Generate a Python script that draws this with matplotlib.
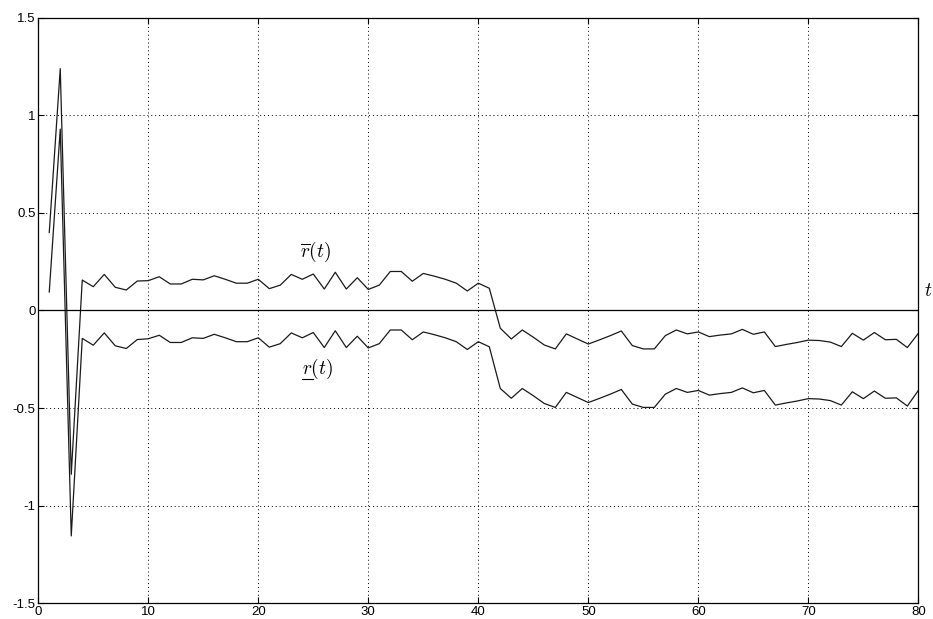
import matplotlib
matplotlib.use("Agg")
import matplotlib.pyplot as plt
from matplotlib.lines import Line2D
import numpy as np

t = list(range(1, 81))
r_upper = [0.40, 1.24, -0.84, 0.156, 0.122, 0.185, 0.119, 0.105, 0.151, 0.153,
           0.173, 0.136, 0.136, 0.160, 0.157, 0.178, 0.160, 0.140, 0.140, 0.160,
           0.112, 0.130, 0.185, 0.160, 0.187, 0.110, 0.196, 0.110, 0.168, 0.108,
           0.130, 0.200, 0.200, 0.150, 0.190, 0.176, 0.160, 0.140, 0.100, 0.140,
           0.114, -0.091, -0.146, -0.100, -0.137, -0.177, -0.197, -0.120, -0.146, -0.172,
           -0.151, -0.129, -0.105, -0.180, -0.197, -0.197, -0.129, -0.100, -0.120, -0.110,
           -0.134, -0.126, -0.120, -0.097, -0.122, -0.110, -0.185, -0.174, -0.164, -0.152,
           -0.154, -0.162, -0.185, -0.117, -0.152, -0.113, -0.150, -0.148, -0.190, -0.117]
r_lower = [0.095, 0.93, -1.156, -0.143, -0.178, -0.115, -0.181, -0.195, -0.149, -0.145,
           -0.127, -0.164, -0.164, -0.140, -0.143, -0.122, -0.140, -0.160, -0.160, -0.140,
           -0.188, -0.170, -0.115, -0.140, -0.113, -0.190, -0.104, -0.190, -0.132, -0.192,
           -0.170, -0.100, -0.100, -0.150, -0.110, -0.124, -0.140, -0.160, -0.200, -0.160,
           -0.186, -0.400, -0.450, -0.400, -0.437, -0.477, -0.497, -0.420, -0.446, -0.472,
           -0.451, -0.429, -0.405, -0.480, -0.497, -0.497, -0.429, -0.400, -0.420, -0.410,
           -0.434, -0.426, -0.420, -0.397, -0.422, -0.410, -0.485, -0.474, -0.464, -0.452,
           -0.454, -0.462, -0.485, -0.417, -0.452, -0.413, -0.450, -0.448, -0.490, -0.410]

xticks = [0, 10, 20, 30, 40, 50, 60, 70, 80]
yticks = [-1.5, -1, -0.5, 0, 0.5, 1, 1.5]
ytick_labels = ["-1.5", "-1", "-0.5", "0", "0.5", "1", "1.5"]

plt.rcParams['mathtext.fontset'] = 'cm'
fig = plt.figure(figsize=(9.33, 6.19), dpi=100)
ax = fig.add_axes([0.041, 0.0258, 0.9433, 0.9452])

ax.plot(t, r_upper, color='#1a1a1a', lw=0.9)
ax.plot(t, r_lower, color='#1a1a1a', lw=0.9)
ax.axhline(0, color='black', lw=0.9)

ax.set_xlim(0, 80)
ax.set_ylim(-1.5, 1.5)
ax.set_xticks(xticks)
ax.set_yticks(yticks)
ax.set_yticklabels(ytick_labels)
ax.tick_params(direction='in', length=4, width=0.8, labelsize=9.5, pad=2,
               top=True, right=True)
for lab in ax.get_xticklabels() + ax.get_yticklabels():
    lab.set_fontfamily('Liberation Sans')
ax.grid(True, color='black', linestyle=(0, (1, 3)), lw=0.7)
for s in ax.spines.values():
    s.set_linewidth(0.9)

ax.text(25.2, 0.30, r'$\overline{r}(t)$', fontsize=14, ha='center', va='center')
ax.text(80.9, 0.10, r'$t$', fontsize=14, ha='center', va='center', clip_on=False)

# underlined r(t): measure the "r" glyph, then draw the underline beneath it
txt_r = ax.text(24.0, -0.30, r'$r$', fontsize=14, ha='left', va='center')
fig.canvas.draw()
bb = txt_r.get_window_extent(renderer=fig.canvas.get_renderer())
txt_r.remove()
ax.text(24.0, -0.30, r'$r(t)$', fontsize=14, ha='left', va='center')
inv = fig.transFigure.inverted()
(x0, y0), (x1, y1) = inv.transform([[bb.x0, bb.y0], [bb.x1, bb.y1]])
fig.add_artist(Line2D([x0, x1], [y0 - 0.001, y0 - 0.001], color='black', lw=0.8,
                      transform=fig.transFigure))

fig.savefig('out.png', dpi=100)
